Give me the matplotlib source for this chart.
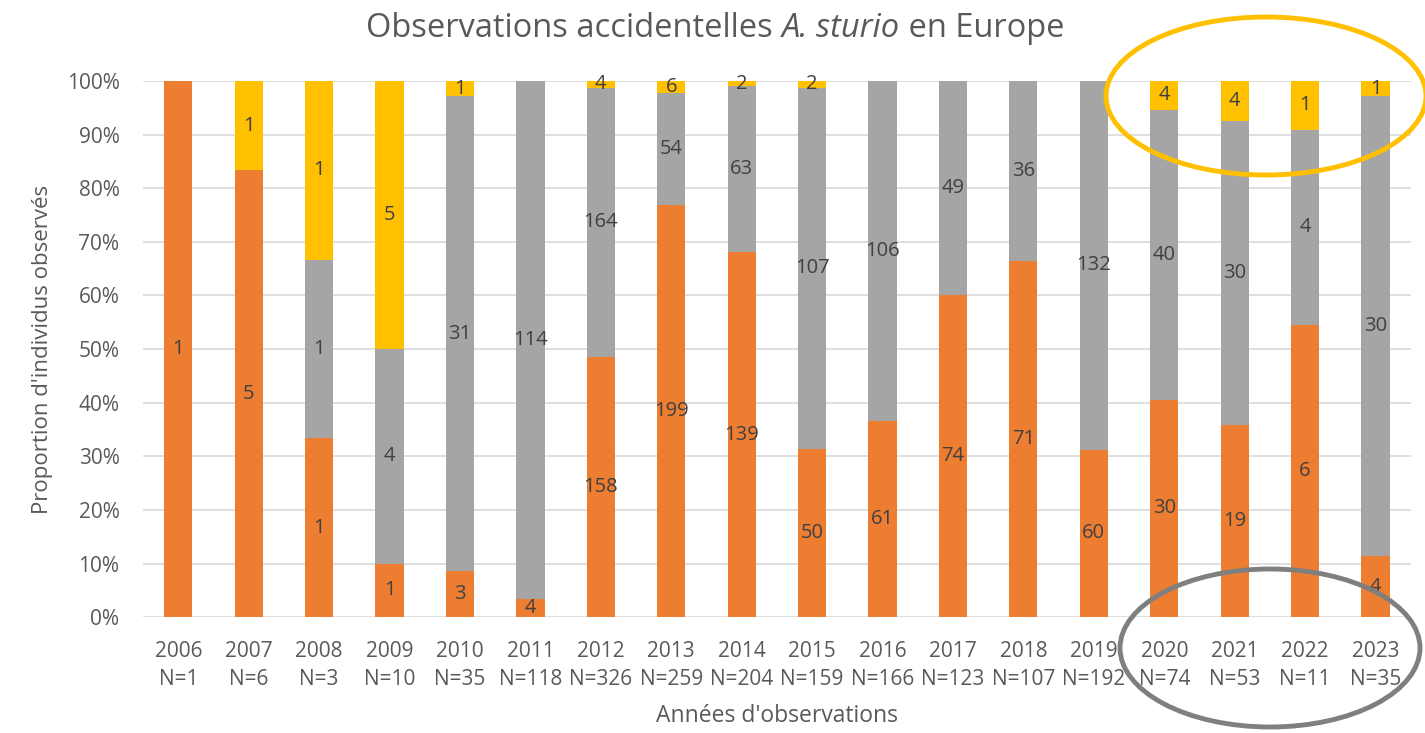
import numpy as np
import matplotlib.pyplot as plt
from matplotlib.patches import Ellipse

plt.rcParams['font.family'] = ['Open Sans', 'DejaVu Sans']

# données
annees = ['2006', '2007', '2008', '2009', '2010', '2011', '2012', '2013', '2014',
          '2015', '2016', '2017', '2018', '2019', '2020', '2021', '2022', '2023']
n_total = [1, 6, 3, 10, 35, 118, 326, 259, 204, 159, 166, 123, 107, 192, 74, 53, 11, 35]
orange = [1, 5, 1, 1, 3, 4, 158, 199, 139, 50, 61, 74, 71, 60, 30, 19, 6, 4]
gris = [0, 0, 1, 4, 31, 114, 164, 54, 63, 107, 106, 49, 36, 132, 40, 30, 4, 30]
jaune = [0, 1, 1, 5, 1, 0, 4, 6, 2, 2, 0, 0, 0, 0, 4, 4, 1, 1]

couleurs = ['#ED7D31', '#A5A5A5', '#FFC000']
texte = '#595959'

series = np.array([orange, gris, jaune], dtype=float)
totaux = series.sum(axis=0)
props = series / totaux

fig = plt.figure(figsize=(14.25, 7.33), dpi=100)
ax = fig.add_axes([0.1004, 0.158, 0.8896, 0.7315])

x = np.arange(len(annees))
bas = np.zeros(len(annees))
for k in range(3):
    ax.bar(x, props[k], bottom=bas, width=0.4, color=couleurs[k], zorder=3)
    for i in range(len(annees)):
        if series[k, i] > 0:
            ax.text(x[i], bas[i] + props[k, i] / 2, str(int(series[k, i])),
                    ha='center', va='center', fontsize=14.5, color='#404040', zorder=4)
    bas += props[k]

ax.set_xlim(-0.5, len(annees) - 0.5)
ax.set_ylim(0, 1)
ax.set_yticks(np.arange(0, 1.01, 0.1))
ax.set_yticklabels([f'{int(round(v * 100))}%' for v in np.arange(0, 1.01, 0.1)])
ax.set_xticks(x)
ax.set_xticklabels([f'{a}\nN={n}' for a, n in zip(annees, n_total)], linespacing=1.45)
ax.tick_params(length=0, labelsize=15, colors=texte)
ax.tick_params(axis='x', pad=17)
ax.tick_params(axis='y', pad=17)
ax.grid(axis='y', color='#D9D9D9', linewidth=1.2, zorder=0)
for s in ax.spines.values():
    s.set_visible(False)

ax.set_ylabel("Proportion d'individus observés", fontsize=16, color=texte, labelpad=10)
ax.set_xlabel("Années d'observations", fontsize=16.5, color=texte, labelpad=10)

# titre avec nom d'espèce en italique
t1 = fig.text(0.0, 0.961, "Observations accidentelles ", fontsize=23.5, color=texte,
              ha='left', va='center')
t2 = fig.text(0.0, 0.961, "A. sturio", fontsize=23.5, color=texte, style='italic',
              ha='left', va='center')
t3 = fig.text(0.0, 0.961, " en Europe", fontsize=23.5, color=texte, ha='left', va='center')
fig.canvas.draw()
r = fig.canvas.get_renderer()
largeurs = [t.get_window_extent(r).width / fig.bbox.width for t in (t1, t2, t3)]
x0 = 0.502 - sum(largeurs) / 2
for t, w in zip((t1, t2, t3), largeurs):
    t.set_x(x0)
    x0 += w

# ellipses de mise en évidence
W, H = 1425, 733
fig.add_artist(Ellipse((1266 / W, 1 - 96 / H), 320 / W, 158 / H, transform=fig.transFigure,
                       fill=False, edgecolor='#FFC000', linewidth=3.5, clip_on=False))
fig.add_artist(Ellipse((1270 / W, 1 - 648 / H), 300 / W, 158 / H, transform=fig.transFigure,
                       fill=False, edgecolor='#7F7F7F', linewidth=3.5, clip_on=False))

fig.savefig('out.png', dpi=100)
